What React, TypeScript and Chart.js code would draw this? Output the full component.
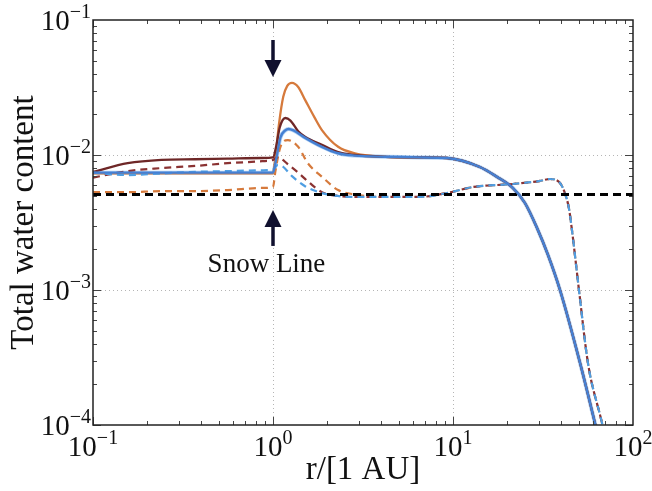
import React, { useEffect, useRef } from 'react';
import { Chart, registerables } from 'chart.js';
Chart.register(...registerables);

// ---- data (r in AU, total water content) ----
const preR = [0.1, 0.156, 0.24, 0.37, 0.56, 0.87, 1.0];
const brownSolidPre = [0.0075, 0.0087, 0.0092, 0.0093, 0.0094, 0.0095, 0.0096];
const blueSolidPre = [0.0074, 0.0074, 0.0074, 0.0074, 0.0074, 0.0074, 0.0074];
const orangeSolidPre = [0.0073, 0.0073, 0.0073, 0.0073, 0.0073, 0.0073, 0.0073];
const brownDashPre = [0.0068, 0.0076, 0.008, 0.0083, 0.0087, 0.009, 0.0092];
const blueDashPre = [0.0074, 0.0071, 0.0073, 0.0075, 0.0076, 0.0077, 0.0078];
const orangeDashPre = [0.0053, 0.0053, 0.0054, 0.0054, 0.0055, 0.0057, 0.0058];

const orangeSolidMidR = [1.03, 1.08, 1.14, 1.2, 1.275, 1.38, 1.51, 1.7, 1.87, 2.3, 2.85, 4.2];
const orangeSolidMid = [0.0095, 0.017, 0.027, 0.0325, 0.0342, 0.0319, 0.0255, 0.019, 0.0153, 0.0115, 0.0103, 0.0097];
const brownSolidMidR = [1.04, 1.09, 1.17, 1.25, 1.38, 1.51, 1.87, 2.3, 2.85, 4.2];
const brownSolidMid = [0.0115, 0.016, 0.0188, 0.018, 0.015, 0.0136, 0.0119, 0.0105, 0.01, 0.0097];
const blueSolidMidR = [1.04, 1.1, 1.17, 1.22, 1.3, 1.51, 1.87, 2.3, 2.85, 4.2];
const blueSolidMid = [0.0092, 0.0135, 0.0152, 0.0156, 0.0152, 0.0134, 0.0115, 0.0103, 0.0099, 0.0097];

const orangeDashMidR = [1.03, 1.1, 1.21, 1.38, 1.56, 1.87, 2.3, 2.85, 3.93];
const orangeDashMid = [0.0075, 0.0115, 0.0129, 0.0115, 0.0087, 0.0069, 0.0055, 0.0051, 0.0049];
const brownDashMidR = [1.05, 1.12, 1.19, 1.38, 1.6, 1.87, 2.25, 2.85, 3.93];
const brownDashMid = [0.0096, 0.0093, 0.0087, 0.0074, 0.0062, 0.0053, 0.005, 0.0049, 0.0049];
const blueDashMidR = [1.06, 1.12, 1.27, 1.5, 1.8, 2.2, 2.85, 3.93];
const blueDashMid = [0.0084, 0.0083, 0.007, 0.0059, 0.0053, 0.005, 0.0049, 0.0049];

const tailSolidR = [6.5, 9.26, 14.1, 17.6, 21.5, 25.1, 29.3, 33.7, 39.3, 50.8, 61.5, 66.8];
const tailSolid = [0.0096, 0.0095, 0.00815, 0.00687, 0.0057, 0.00441, 0.00288, 0.00182, 0.001, 0.000288, 0.000103, 0.000065];
const tailDashR = [6.56, 9.26, 12.9, 21.5, 30, 34.6, 39.3, 41.9, 44.1, 45.8, 50.1, 56.2, 67.3, 72.5];
const tailDash = [0.0049, 0.00523, 0.00579, 0.0061, 0.0064, 0.00664, 0.0062, 0.0052, 0.004, 0.00278, 0.001, 0.000288, 0.000103, 0.000065];

const iceLineR = [0.1, 100];
const iceLine = [0.0051, 0.0051];

const xDecades = [0.1, 1, 10, 100];
const yDecades = [1e-4, 1e-3, 1e-2, 1e-1];
const xTickExp = ['−1', '0', '1', '2'];
const yTickExp = ['−4', '−3', '−2', '−1'];

const snowLineR = 1.0;
const arrowDown = [0.0711, 0.0378];
const arrowUp = [0.00212, 0.00392];
const snowLabelPos = { r: 0.92, w: 0.00136 };

const pts = (xs: number[], ys: number[]) => xs.map((x, i) => ({ x, y: ys[i] }));
const series = (preY: number[], midR: number[], midY: number[], tR: number[], tY: number[]) => [
  ...pts(preR, preY),
  ...pts(midR, midY),
  ...pts(tR, tY),
];

const SERIF = '"Liberation Serif", "Times New Roman", serif';

const decor = {
  id: 'decor',
  beforeDatasetsDraw(chart: any) {
    const { ctx, chartArea: a, scales } = chart;
    const xs = scales.x, ys = scales.y;
    ctx.save();
    ctx.strokeStyle = '#b5b5b5';
    ctx.lineWidth = 1;
    ctx.setLineDash([1, 3]);
    for (const v of [1, 10]) {
      const px = Math.round(xs.getPixelForValue(v)) + 0.5;
      ctx.beginPath(); ctx.moveTo(px, a.top); ctx.lineTo(px, a.bottom); ctx.stroke();
    }
    for (const v of [1e-3, 1e-2]) {
      const py = Math.round(ys.getPixelForValue(v)) + 0.5;
      ctx.beginPath(); ctx.moveTo(a.left, py); ctx.lineTo(a.right, py); ctx.stroke();
    }
    ctx.restore();
  },
  afterDatasetsDraw(chart: any) {
    const { ctx, chartArea: a, scales } = chart;
    const xs = scales.x, ys = scales.y;
    ctx.save();
    // ticks
    ctx.strokeStyle = '#444';
    ctx.lineWidth = 1;
    for (let d = 0; d < 3; d++) {
      for (let m = 1; m <= 9; m++) {
        const v = xDecades[d] * m;
        const px = Math.round(xs.getPixelForValue(v)) + 0.5;
        const L = m === 1 ? 8 : 4;
        ctx.beginPath(); ctx.moveTo(px, a.bottom); ctx.lineTo(px, a.bottom - L); ctx.stroke();
        ctx.beginPath(); ctx.moveTo(px, a.top); ctx.lineTo(px, a.top + L); ctx.stroke();
        const vy = yDecades[d] * m;
        const py = Math.round(ys.getPixelForValue(vy)) + 0.5;
        ctx.beginPath(); ctx.moveTo(a.left, py); ctx.lineTo(a.left + L, py); ctx.stroke();
        ctx.beginPath(); ctx.moveTo(a.right, py); ctx.lineTo(a.right - L, py); ctx.stroke();
      }
    }
    // frame
    ctx.strokeStyle = '#222';
    ctx.lineWidth = 1.5;
    ctx.strokeRect(a.left, a.top, a.right - a.left, a.bottom - a.top);

    // arrows
    const cx = xs.getPixelForValue(snowLineR);
    const arrow = (yTail: number, yTip: number) => {
      const t = ys.getPixelForValue(yTail);
      const p = ys.getPixelForValue(yTip);
      const dir = p > t ? 1 : -1;
      const headL = 17, headW = 8.5;
      ctx.fillStyle = '#10102e';
      ctx.strokeStyle = '#10102e';
      ctx.lineWidth = 3.5;
      ctx.beginPath(); ctx.moveTo(cx, t); ctx.lineTo(cx, p - dir * headL); ctx.stroke();
      ctx.beginPath();
      ctx.moveTo(cx, p);
      ctx.lineTo(cx - headW, p - dir * headL);
      ctx.lineTo(cx + headW, p - dir * headL);
      ctx.closePath(); ctx.fill();
    };
    arrow(arrowDown[0], arrowDown[1]);
    arrow(arrowUp[0], arrowUp[1]);

    ctx.fillStyle = '#111';
    ctx.font = `27px ${SERIF}`;
    ctx.textAlign = 'center';
    ctx.textBaseline = 'alphabetic';
    ctx.fillText('Snow Line', xs.getPixelForValue(snowLabelPos.r), ys.getPixelForValue(snowLabelPos.w));

    // tick labels
    const baseF = `29px ${SERIF}`;
    const expF = `20px ${SERIF}`;
    const measure = (e: string) => {
      ctx.font = baseF; const wb = ctx.measureText('10').width;
      ctx.font = expF; const we = ctx.measureText(e).width;
      return [wb, we];
    };
    ctx.textAlign = 'left';
    ctx.fillStyle = '#111';
    xDecades.forEach((v, i) => {
      const px = xs.getPixelForValue(v);
      const [wb, we] = measure(xTickExp[i]);
      const x0 = px - (wb + we) / 2;
      ctx.font = baseF; ctx.fillText('10', x0, a.bottom + 31);
      ctx.font = expF; ctx.fillText(xTickExp[i], x0 + wb, a.bottom + 19);
    });
    yDecades.forEach((v, i) => {
      const py = ys.getPixelForValue(v);
      const [wb, we] = measure(yTickExp[i]);
      const x0 = a.left - 2 - (wb + we);
      ctx.font = baseF; ctx.fillText('10', x0, py + 10);
      ctx.font = expF; ctx.fillText(yTickExp[i], x0 + wb, py - 2);
    });

    // axis titles
    ctx.font = `33px ${SERIF}`;
    ctx.textAlign = 'center';
    ctx.fillText('r/[1 AU]', (a.left + a.right) / 2, 479);
    ctx.save();
    ctx.translate(33, (a.top + a.bottom) / 2);
    ctx.rotate(-Math.PI / 2);
    ctx.fillText('Total water content', 0, 0);
    ctx.restore();
    ctx.restore();
  },
};

export default function App() {
  const ref = useRef<HTMLCanvasElement>(null);
  useEffect(() => {
    if (!ref.current) return;
    const orange = '#d67a3c';
    const brown = '#6e2727';
    const blue = '#4580d3';
    const lblue = '#4f9ee2';
    const brownD = '#8a3232';
    const mk = (data: any[], color: string, width: number, dash: number[] | undefined, order: number) => ({
      data,
      borderColor: color,
      backgroundColor: color,
      borderWidth: width,
      borderDash: dash,
      pointRadius: 0,
      fill: false,
      cubicInterpolationMode: 'monotone' as const,
      order,
    });
    const blueSolidData = series(blueSolidPre, blueSolidMidR, blueSolidMid, tailSolidR, tailSolid);
    const chart = new Chart(ref.current, {
      type: 'line',
      data: {
        datasets: [
          mk(blueSolidData, blue, 2.4, undefined, 0),
          mk(pts(iceLineR, iceLine), '#000', 3, [8, 5], 1),
          mk(series(blueDashPre, blueDashMidR, blueDashMid, tailDashR, tailDash), lblue, 2.2, [7, 5], 2),
          mk(series(brownDashPre, brownDashMidR, brownDashMid, tailDashR, tailDash), brownD, 2.2, [7, 5], 3),
          mk(series(orangeDashPre, orangeDashMidR, orangeDashMid, tailDashR, tailDash), orange, 2.2, [7, 5], 4),
          mk(series(brownSolidPre, brownSolidMidR, brownSolidMid, tailSolidR, tailSolid), brown, 2.3, undefined, 5),
          mk(series(orangeSolidPre, orangeSolidMidR, orangeSolidMid, tailSolidR, tailSolid), orange, 2.3, undefined, 6),
          mk(blueSolidData, 'rgba(110,170,235,0.55)', 4, undefined, 7),
        ],
      },
      options: {
        responsive: false,
        animation: false,
        layout: { padding: { left: 93, right: 19, top: 20, bottom: 66 } },
        plugins: { legend: { display: false }, tooltip: { enabled: false } },
        scales: {
          x: { type: 'logarithmic', min: 0.1, max: 100, display: false },
          y: { type: 'logarithmic', min: 1e-4, max: 1e-1, display: false },
        },
      },
      plugins: [decor],
    });
    return () => chart.destroy();
  }, []);
  return (
    <div style={{ position: 'fixed', left: 0, top: 0, width: 652, height: 491, background: '#fff' }}>
      <canvas ref={ref} width={652} height={491} style={{ display: 'block' }} />
    </div>
  );
}
